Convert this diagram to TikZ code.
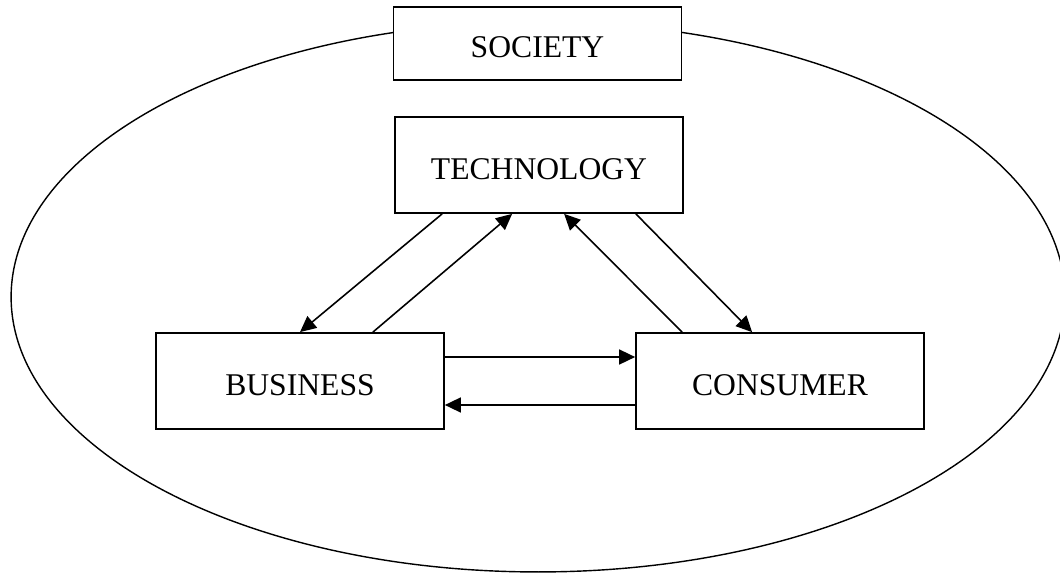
\documentclass[tikz,border=0pt]{standalone}
\usepackage{fontspec}
\setmainfont{Liberation Serif}
\usetikzlibrary{arrows.meta}
\usetikzlibrary{positioning}
\tikzset{box/.style = {draw, fill = white, line width = 1pt, inner sep = 0,
                       minimum width = 5.76cm, minimum height = 1.92cm,
                       text height = 0.58cm, text depth = 0pt,
                       font = \fontsize{18}{21}\selectfont}}
\tikzset{flow/.style = {-{Triangle[length = 0.32cm, width = 0.3cm]}, line width = 0.9pt}}

\begin{document}
\begin{tikzpicture}[x = 0.02cm, y = -0.02cm]
      \useasboundingbox (0, 0) rectangle (1060, 574);
      \draw [line width = 0.8pt] (538, 297) ellipse [x radius = 10.54cm, y radius = 5.5cm];

      \node [box, minimum height = 1.46cm] (society) at (537.5, 43.5) {SOCIETY};
      \node [box] (tech) at (539, 165) {TECHNOLOGY};
      \node [box] (business) at (300, 381) {BUSINESS};
      \node [box] (consumer) at (780, 381) {CONSUMER};

      % technology and business
      \draw [flow] ([xshift = 0.96cm] tech.south west) -- (business.north);
      \draw [flow] ([xshift = -1.44cm] business.north east) -- ([xshift = 2.36cm] tech.south west);

      % technology and consumer
      \draw [flow] ([xshift = 0.94cm] consumer.north west) -- ([xshift = 3.4cm] tech.south west);
      \draw [flow] ([xshift = -0.96cm] tech.south east) -- ([xshift = 2.34cm] consumer.north west);

      % business and consumer
      \draw [flow] ([yshift = 0.48cm] business.east) -- ([yshift = 0.48cm] consumer.west);
      \draw [flow] ([yshift = -0.48cm] consumer.west) -- ([yshift = -0.48cm] business.east);

    \end{tikzpicture}
\end{document}
